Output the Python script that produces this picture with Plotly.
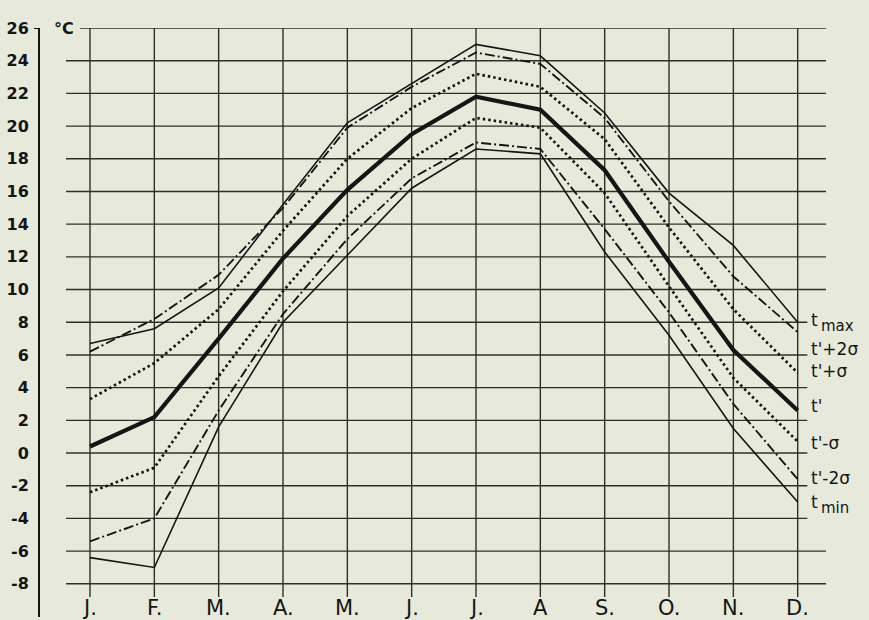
import plotly.graph_objects as go

months = ["J.", "F.", "M.", "A.", "M.", "J.", "J.", "A", "S.", "O.", "N.", "D."]
t_max = [6.7, 7.6, 10.1, 15.2, 20.2, 22.6, 25.0, 24.3, 20.8, 15.9, 12.7, 8.0]
t_p2s = [6.2, 8.2, 10.9, 15.0, 19.9, 22.4, 24.5, 23.8, 20.5, 15.4, 10.8, 7.4]
t_p1s = [3.3, 5.5, 8.8, 13.6, 18.0, 21.1, 23.2, 22.4, 19.2, 13.8, 8.8, 4.9]
t_mean = [0.4, 2.2, 7.0, 11.9, 16.1, 19.5, 21.8, 21.0, 17.3, 11.7, 6.3, 2.6]
t_m1s = [-2.4, -0.9, 4.7, 9.9, 14.5, 18.0, 20.5, 19.9, 15.9, 10.2, 4.6, 0.7]
t_m2s = [-5.4, -4.0, 2.6, 8.5, 13.1, 16.8, 19.0, 18.6, 13.7, 8.6, 3.0, -1.6]
t_min = [-6.4, -7.0, 1.6, 8.0, 12.1, 16.2, 18.6, 18.3, 12.3, 7.2, 1.5, -3.0]

# end labels: main symbol, optional subscript, y position
series_labels = ["t", "t'+2σ", "t'+σ", "t'", "t'-σ", "t'-2σ", "t"]
series_subs = ["max", "", "", "", "", "", "min"]
label_y = [8.15, 6.35, 5.0, 2.9, 0.6, -1.5, -3.0]

y_ticks = list(range(-8, 27, 2))
y_ticktext = [str(v) for v in y_ticks]

INK = "#151515"
GRID = "#2f2f27"
BG = "#e7eadb"

xs = list(range(len(months)))
series = [t_max, t_p2s, t_p1s, t_mean, t_m1s, t_m2s, t_min]
styles = [
    dict(width=1.6, dash="solid"),
    dict(width=1.9, dash="10px,3px,2px,3px"),
    dict(width=2.7, dash="2.5px,3px"),
    dict(width=4.2, dash="solid"),
    dict(width=2.7, dash="2.5px,3px"),
    dict(width=1.9, dash="10px,3px,2px,3px"),
    dict(width=1.6, dash="solid"),
]

fig = go.Figure()
for ys, st in zip(series, styles):
    fig.add_trace(go.Scatter(x=xs, y=ys, mode="lines",
                             line=dict(color=INK, width=st["width"], dash=st["dash"]),
                             hoverinfo="skip", showlegend=False))

shapes = []
for v in y_ticks:
    if v == 26:
        x0, x1 = -0.155, 11.44
    elif -4 <= v <= 8:
        x0, x1 = -0.373, 11.15
    elif v <= -6:
        x0, x1 = -0.373, 11.55
    else:
        x0, x1 = -0.373, 11.44
    shapes.append(dict(type="line", xref="x", yref="y", x0=x0, x1=x1, y0=v, y1=v,
                       line=dict(color=GRID, width=1.4), layer="below"))
for i in xs:
    shapes.append(dict(type="line", xref="x", yref="y", x0=i, x1=i, y0=-8.8, y1=26,
                       line=dict(color=GRID, width=1.4), layer="below"))
shapes.append(dict(type="line", xref="paper", yref="y", x0=-6 / 786, x1=0, y0=26, y1=26,
                   line=dict(color=INK, width=2)))

annotations = []
for i, m in enumerate(months):
    annotations.append(dict(x=i, y=-9.5, xref="x", yref="y", text=m, showarrow=False,
                            xanchor="center", yanchor="middle",
                            font=dict(family="DejaVu Sans", size=21, color=INK)))
for lab, sub, ly in zip(series_labels, series_subs, label_y):
    annotations.append(dict(x=11.18, y=ly, xref="x", yref="y", text=lab, showarrow=False,
                            xanchor="left", yanchor="middle",
                            font=dict(family="DejaVu Sans", size=17, color=INK)))
    if sub:
        annotations.append(dict(x=11.33, y=ly - 0.38, xref="x", yref="y", text=sub,
                                showarrow=False, xanchor="left", yanchor="middle",
                                font=dict(family="DejaVu Sans", size=15, color=INK)))
annotations.append(dict(x=12 / 786, y=26, xref="paper", yref="y", text="<b>°C</b>",
                        showarrow=False, xanchor="left", yanchor="middle",
                        font=dict(family="DejaVu Sans", size=16, color=INK)))

fig.update_layout(
    width=869, height=620,
    margin=dict(l=40, r=43, t=28, b=3),
    paper_bgcolor=BG, plot_bgcolor=BG,
    shapes=shapes, annotations=annotations,
    xaxis=dict(range=[-0.777, 11.44], showgrid=False, zeroline=False,
               showticklabels=False, showline=False, fixedrange=True),
    yaxis=dict(range=[-10.03, 26], showgrid=False, zeroline=False,
               tickvals=y_ticks, ticktext=y_ticktext, ticks="",
               ticklabelstandoff=6,
               showline=True, linecolor=INK, linewidth=2,
               tickfont=dict(family="DejaVu Sans", size=16, color=INK, weight="bold"),
               fixedrange=True),
)

fig.write_html("out.html")
